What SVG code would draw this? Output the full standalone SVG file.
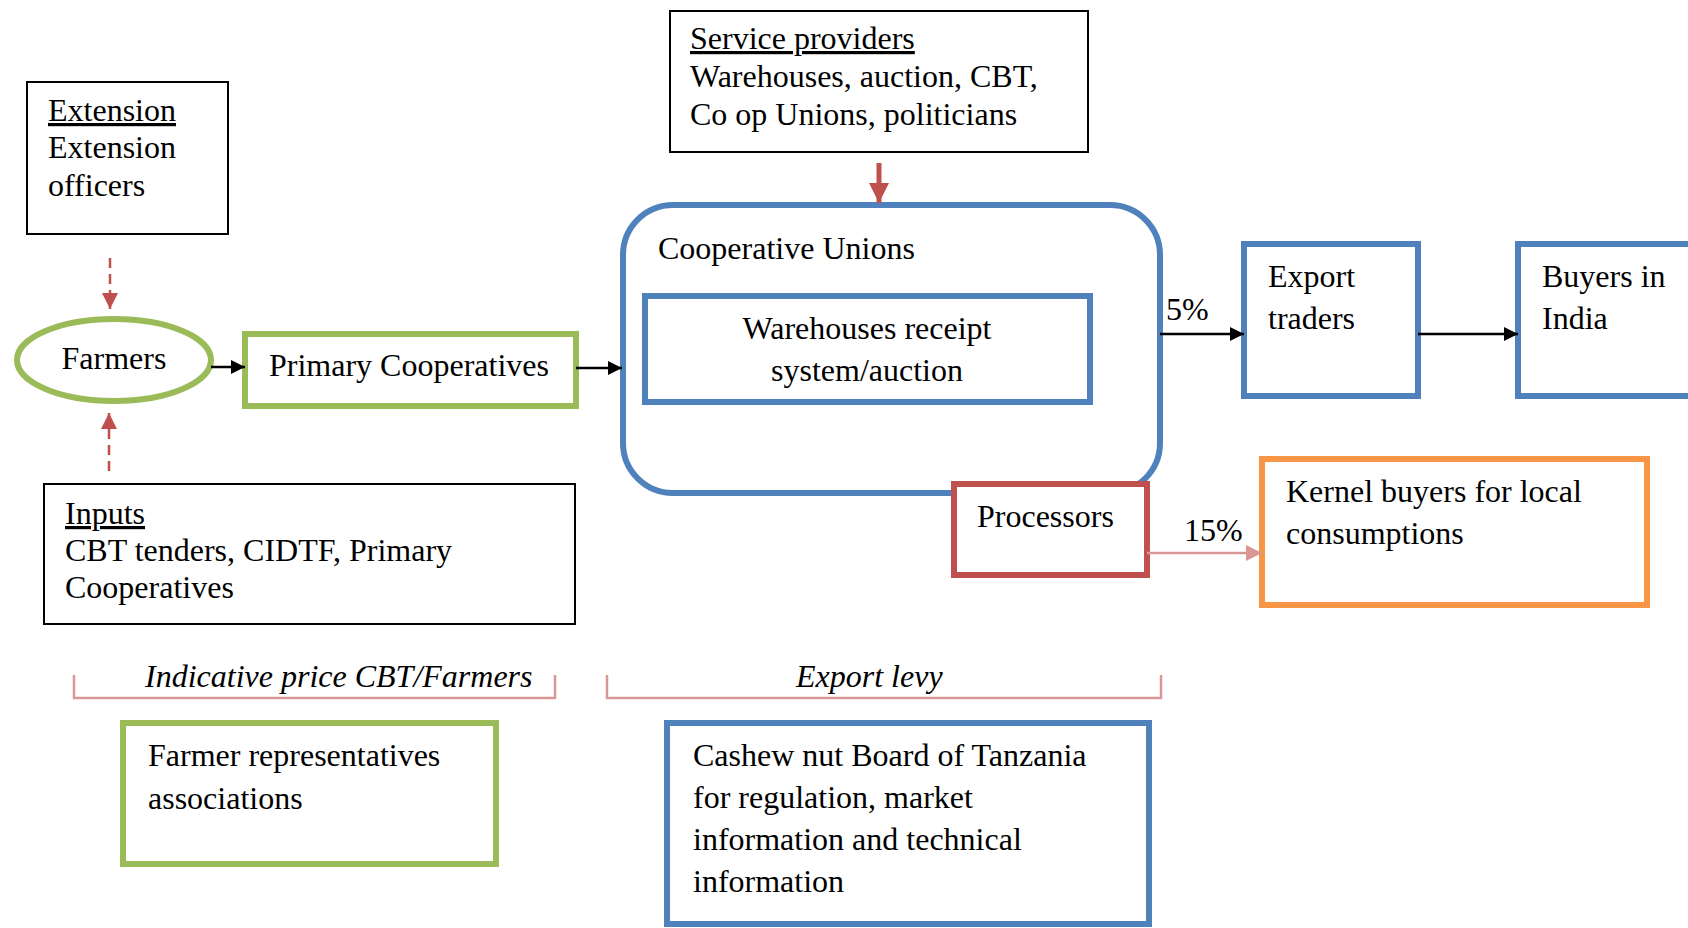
<svg xmlns="http://www.w3.org/2000/svg" width="1688" height="928" viewBox="0 0 1688 928">
<defs>
<style>
text{font-family:"Liberation Serif","Times New Roman",serif;font-size:32px;fill:#000}
.it{font-style:italic}
.u{text-decoration:underline}
.blk{fill:#fff;stroke:#000;stroke-width:2}
.blue{fill:#fff;stroke:#4F81BD;stroke-width:6}
.green{fill:#fff;stroke:#9BBB59;stroke-width:6}
.red{fill:#fff;stroke:#C0504D;stroke-width:6}
.orange{fill:#fff;stroke:#F79646;stroke-width:6}
.conn{fill:none;stroke:#000;stroke-width:2.5}
.dash{fill:none;stroke:#C0504D;stroke-width:2.5;stroke-dasharray:10 6}
.brk{fill:none;stroke:#D99694;stroke-width:2.5}
</style>
<marker id="ab" markerUnits="userSpaceOnUse" markerWidth="14" markerHeight="14" refX="14" refY="7" orient="auto"><path d="M0,0 L14,7 L0,14 z" fill="#000"/></marker>
<marker id="ar" markerUnits="userSpaceOnUse" markerWidth="20" markerHeight="20" refX="20" refY="10" orient="auto"><path d="M0,0 L20,10 L0,20 z" fill="#C0504D"/></marker>
<marker id="ard" markerUnits="userSpaceOnUse" markerWidth="16" markerHeight="16" refX="16" refY="8" orient="auto"><path d="M0,0 L16,8 L0,16 z" fill="#C0504D"/></marker>
<marker id="ap" markerUnits="userSpaceOnUse" markerWidth="16" markerHeight="16" refX="16" refY="8" orient="auto"><path d="M0,0 L16,8 L0,16 z" fill="#D99694"/></marker>
</defs>
<rect width="1688" height="928" fill="#fff"/>

<g id="extension">
<rect class="blk" x="27" y="82" width="201" height="152"/>
<text x="48" y="121" class="u">Extension</text>
<text x="48" y="158">Extension</text>
<text x="48" y="196">officers</text>
</g>

<g id="service-providers">
<rect class="blk" x="670" y="11" width="418" height="141"/>
<text x="690" y="49" class="u">Service providers</text>
<text x="690" y="87">Warehouses, auction, CBT,</text>
<text x="690" y="125">Co op Unions, politicians</text>
</g>

<g id="cooperative-unions">
<rect class="blue" x="623" y="205" width="537" height="288" rx="50" ry="50" stroke-width="5.5"/>
<text x="658" y="259">Cooperative Unions</text>
</g>

<g id="warehouses">
<rect class="blue" x="645" y="296" width="445" height="106"/>
<text x="867" y="339" text-anchor="middle">Warehouses receipt</text>
<text x="867" y="381" text-anchor="middle">system/auction</text>
</g>

<g id="processors">
<rect class="red" x="954" y="484" width="193" height="91"/>
<text x="977" y="527">Processors</text>
</g>

<g id="farmers">
<ellipse class="green" cx="114" cy="360" rx="97" ry="41"/>
<text x="114" y="369" text-anchor="middle">Farmers</text>
</g>

<g id="primary-cooperatives">
<rect class="green" x="245" y="334" width="331" height="72"/>
<text x="269" y="376">Primary Cooperatives</text>
</g>

<g id="inputs">
<rect class="blk" x="44" y="484" width="531" height="140"/>
<text x="65" y="524" class="u">Inputs</text>
<text x="65" y="561">CBT tenders, CIDTF, Primary</text>
<text x="65" y="598">Cooperatives</text>
</g>

<g id="export-traders">
<rect class="blue" x="1244" y="244" width="174" height="152"/>
<text x="1268" y="287">Export</text>
<text x="1268" y="329">traders</text>
</g>

<g id="buyers-india">
<rect class="blue" x="1518" y="244" width="190" height="152"/>
<text x="1542" y="287">Buyers in</text>
<text x="1542" y="329">India</text>
</g>

<g id="kernel-buyers">
<rect class="orange" x="1262" y="459" width="385" height="146"/>
<text x="1286" y="502">Kernel buyers for local</text>
<text x="1286" y="544">consumptions</text>
</g>

<g id="farmer-representatives">
<rect class="green" x="123" y="723" width="373" height="141"/>
<text x="148" y="766">Farmer representatives</text>
<text x="148" y="809">associations</text>
</g>

<g id="cashew-board">
<rect class="blue" x="667" y="723" width="482" height="201"/>
<text x="693" y="766">Cashew nut Board of Tanzania</text>
<text x="693" y="808">for regulation, market</text>
<text x="693" y="850">information and technical</text>
<text x="693" y="892">information</text>
</g>

<g id="connectors">
<line class="conn" x1="211" y1="367" x2="245" y2="367" marker-end="url(#ab)"/>
<line class="conn" x1="576" y1="368" x2="622" y2="368" marker-end="url(#ab)"/>
<line class="conn" x1="1160" y1="334" x2="1244" y2="334" marker-end="url(#ab)"/>
<line class="conn" x1="1418" y1="334" x2="1518" y2="334" marker-end="url(#ab)"/>
<line x1="879" y1="163" x2="879" y2="203" stroke="#C0504D" stroke-width="5" marker-end="url(#ar)"/>
<line class="dash" x1="110" y1="258" x2="110" y2="309" marker-end="url(#ard)"/>
<line class="dash" x1="109" y1="471" x2="109" y2="413" marker-end="url(#ard)"/>
<line x1="1147" y1="553" x2="1262" y2="553" stroke="#D99694" stroke-width="2.5" marker-end="url(#ap)"/>
<text x="1166" y="320">5%</text>
<text x="1184" y="541">15%</text>
</g>

<g id="brackets">
<path class="brk" d="M74,675 V698 H555 V675"/>
<text x="145" y="687" class="it">Indicative price CBT/Farmers</text>
<path class="brk" d="M607,675 V698 H1161 V675"/>
<text x="796" y="687" class="it">Export levy</text>
</g>
</svg>
